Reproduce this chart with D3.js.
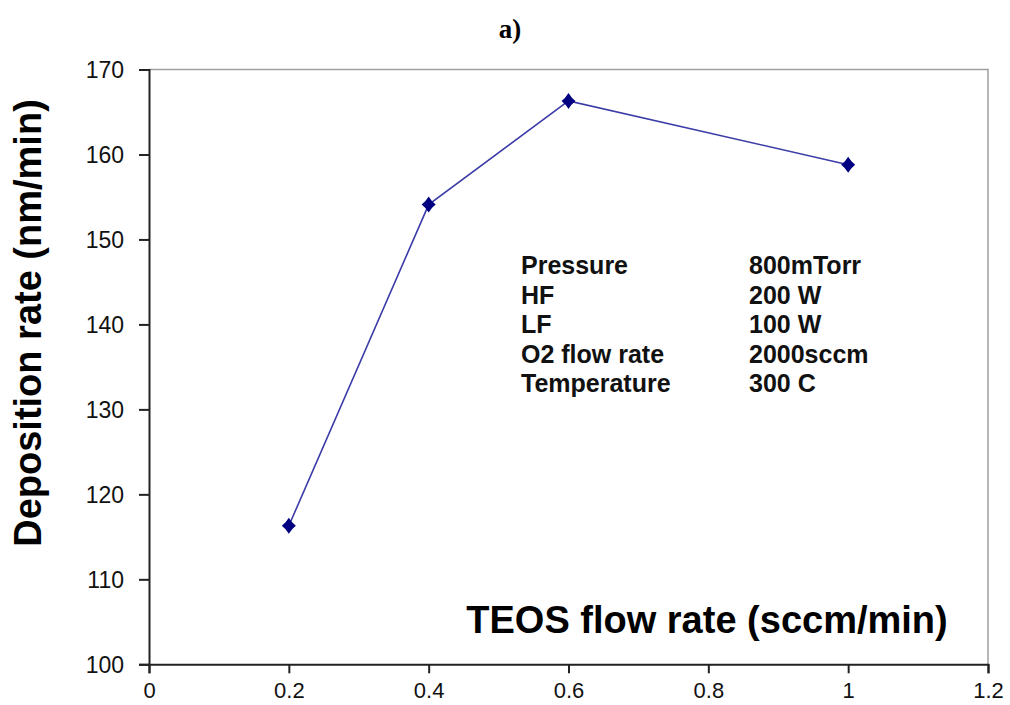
<!DOCTYPE html>
<html>
<head>
<meta charset="utf-8">
<script src="https://cdn.jsdelivr.net/npm/d3@7"></script>
<style>
body { margin: 0; background: #fff; }
text { font-family: "Liberation Sans", Arial, sans-serif; }
</style>
</head>
<body>
<svg class="canvas"></svg>
<script>
var teos = [0.2, 0.4, 0.6, 1.0];
var rate = [116.3, 154.1, 166.3, 158.8];
var xTicks = [0, 0.2, 0.4, 0.6, 0.8, 1, 1.2];
var yTicks = [100, 110, 120, 130, 140, 150, 160, 170];
var condNames = ["Pressure", "HF", "LF", "O2 flow rate", "Temperature"];
var condValues = ["800mTorr", "200 W", "100 W", "2000sccm", "300 C"];

var width = 1010,
	height = 705;

var LEFT = 149, RIGHT = 988, TOP = 69.5, BOTTOM = 664.3;

var canvas = d3.select(".canvas")
	.attr("width", width)
	.attr("height", height);

var x = d3.scaleLinear().domain([0, 1.2]).range([LEFT, RIGHT]);
var y = d3.scaleLinear().domain([100, 170]).range([BOTTOM, TOP]);

// gray frame top / right
canvas.append("path")
	.attr("d", "M" + LEFT + "," + TOP + "H" + RIGHT + "V" + BOTTOM)
	.attr("fill", "none")
	.attr("stroke", "#a0a0a0")
	.attr("stroke-width", 1.5);

var xAxis = canvas.append("g")
	.attr("transform", "translate(0," + BOTTOM + ")")
	.call(d3.axisBottom(x).tickValues(xTicks).tickSize(9).tickPadding(9)
		.tickFormat(function(d) { return d3.format("")(+d.toFixed(1)); }));

var yAxis = canvas.append("g")
	.attr("transform", "translate(" + LEFT + ",0)")
	.call(d3.axisLeft(y).tickValues(yTicks).tickSize(10).tickPadding(15));

[xAxis, yAxis].forEach(function(a) {
	a.select(".domain").attr("stroke", "#222").attr("stroke-width", 2);
	a.selectAll(".tick line").attr("stroke", "#222").attr("stroke-width", 2);
	a.selectAll(".tick text")
		.attr("fill", "#111")
		.style("font-family", "'Liberation Sans', Arial, sans-serif")
		.style("font-size", "22px");
});
yAxis.selectAll(".tick text").style("font-size", "23px").attr("dy", "0.35em");

var line = d3.line()
	.x(function(d, i) { return x(teos[i]); })
	.y(function(d) { return y(d); });

canvas.append("path")
	.datum(rate)
	.attr("d", line)
	.attr("fill", "none")
	.attr("stroke", "#3c3ca8")
	.attr("stroke-width", 1.6);

// diamond markers
canvas.selectAll(".pt").data(rate)
	.enter().append("path")
	.attr("class", "pt")
	.attr("transform", function(d, i) { return "translate(" + x(teos[i]) + "," + y(d) + ")"; })
	.attr("d", "M0,-8 Q3,-3 7,0 Q3,3 0,8 Q-3,3 -7,0 Q-3,-3 0,-8 Z")
	.attr("fill", "#000080");

// conditions block
var cond = canvas.selectAll(".cond").data(condNames)
	.enter().append("g")
	.attr("class", "cond")
	.attr("transform", function(d, i) { return "translate(0," + (274 + i * 29.6) + ")"; });

cond.append("text")
	.attr("x", 521)
	.style("font-size", "25px")
	.style("font-weight", "bold")
	.attr("fill", "#111")
	.text(function(d) { return d; });

cond.append("text")
	.attr("x", 749)
	.style("font-size", "25px")
	.style("font-weight", "bold")
	.attr("fill", "#111")
	.text(function(d, i) { return condValues[i]; });

// axis titles
canvas.append("text")
	.attr("x", 707)
	.attr("y", 633)
	.attr("text-anchor", "middle")
	.style("font-size", "38px")
	.style("font-weight", "bold")
	.attr("fill", "#000")
	.text("TEOS flow rate (sccm/min)");

canvas.append("text")
	.attr("transform", "translate(41,323) rotate(-90)")
	.attr("text-anchor", "middle")
	.style("font-size", "38px")
	.style("font-weight", "bold")
	.attr("fill", "#000")
	.text("Deposition rate (nm/min)");

canvas.append("text")
	.attr("x", 510)
	.attr("y", 38)
	.attr("text-anchor", "middle")
	.style("font-family", "'Liberation Serif', 'Times New Roman', serif")
	.style("font-size", "27px")
	.style("font-weight", "bold")
	.attr("fill", "#000")
	.text("a)");
</script>
</body>
</html>
